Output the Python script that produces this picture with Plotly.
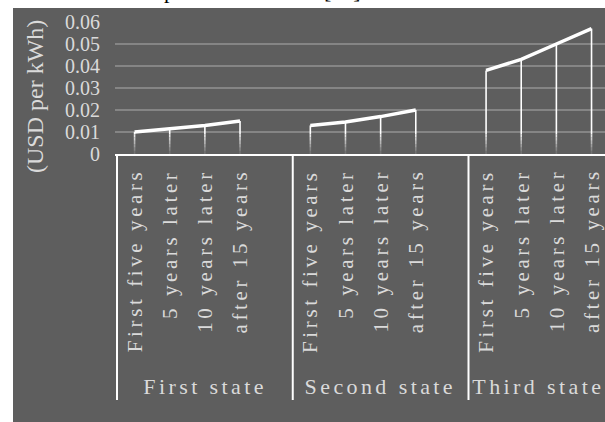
import plotly.graph_objects as go

# ---------------- data ----------------
groups = ["First state", "Second state", "Third state"]
periods = ["First five years", "5 years later", "10 years later", "after 15 years"]
first_state = [0.010, 0.0115, 0.013, 0.015]
second_state = [0.013, 0.0145, 0.017, 0.020]
third_state = [0.038, 0.043, 0.050, 0.057]
y_tick_values = [0, 0.01, 0.02, 0.03, 0.04, 0.05, 0.06]
y_tick_labels = ["0", "0.01", "0.02", "0.03", "0.04", "0.05", "0.06"]
y_title = "(USD per kWh)"
chart_title = "The electric price of the states [24]"

series = [first_state, second_state, third_state]

# ---------------- layout geometry ----------------
W, H = 605, 422
L, R, T, B = 115, 0, 22, 268
PW = W - L - R
PH = H - T - B
SLOTS = len(periods) + 1          # one empty slot between states
SLOT_PX = 35.15
x0 = -0.5 - (117 - L) / SLOT_PX
x1 = x0 + PW / SLOT_PX

def px_x(p):
    return (p - L) / PW

def px_y(p):
    return (H - B - p) / PH

BG = "#5e5e5e"
GRID = "#858585"
TXT = "#dadada"
SERIF = "Liberation Serif"

fig = go.Figure()

# drop lines with a fade toward the axis
band_edges = [0, 0.0015, 0.003, 0.0045, 0.006, 0.0075, 0.009, 1.0]
band_alpha = [0.12, 0.25, 0.4, 0.55, 0.7, 0.85, 1.0]
for k in range(len(band_edges) - 1):
    lo, hi = band_edges[k], band_edges[k + 1]
    xs, ys = [], []
    for g, vals in enumerate(series):
        for i, v in enumerate(vals):
            if v > lo:
                xs += [g * SLOTS + i, g * SLOTS + i, None]
                ys += [lo, min(v, hi), None]
    fig.add_trace(go.Scatter(x=xs, y=ys, mode="lines",
                             line=dict(color="white", width=1.6),
                             opacity=band_alpha[k], hoverinfo="skip",
                             showlegend=False))

# main lines
for g, vals in enumerate(series):
    fig.add_trace(go.Scatter(x=[g * SLOTS + i for i in range(len(vals))], y=vals,
                             mode="lines", line=dict(color="white", width=3.5),
                             name=groups[g], showlegend=False))

shapes = [dict(type="rect", xref="paper", yref="paper",
               x0=px_x(13), x1=px_x(W) + 0.02, y0=px_y(H) - 0.05, y1=px_y(8),
               fillcolor=BG, line=dict(width=0), layer="below")]
# group spans: last group has no trailing empty slot
spans = []
for g in range(len(groups)):
    start = g * SLOTS - 0.5
    end = start + (SLOTS if g < len(groups) - 1 else len(periods))
    spans.append((start, end))
bounds = sorted(set([s for s, e in spans] + [e for s, e in spans]))
for b in bounds:
    shapes.append(dict(type="line", xref="x", yref="paper",
                       x0=b, x1=b, y0=0, y1=px_y(400),
                       line=dict(color="white", width=2)))

annotations = []
# category labels (rotated)
for g in range(len(groups)):
    for i, p in enumerate(periods):
        annotations.append(dict(x=g * SLOTS + i, xref="x", y=px_y(168), yref="paper",
                                text=p, textangle=-90, showarrow=False,
                                xanchor="center", yanchor="top", align="right",
                                borderpad=0,
                                font=dict(family=SERIF, size=21, color=TXT)))
# group labels
for g, name in enumerate(groups):
    s, e = spans[g]
    annotations.append(dict(x=(s + e) / 2, xref="x", y=px_y(386), yref="paper",
                            text=name, showarrow=False, xanchor="center", yanchor="middle",
                            align="center", borderpad=0,
                            font=dict(family=SERIF, size=22, color=TXT)))
# y axis title
annotations.append(dict(x=px_x(35), xref="paper", y=px_y(97), yref="paper",
                        text=y_title, textangle=-90, showarrow=False,
                        xanchor="center", yanchor="middle",
                        font=dict(family=SERIF, size=24, color=TXT)))
# chart title (mostly cut off at the top)
annotations.append(dict(x=px_x(52), xref="paper", y=px_y(5), yref="paper",
                        text=chart_title, showarrow=False,
                        xanchor="left", yanchor="bottom",
                        font=dict(family=SERIF, size=22, color="black")))

fig.update_layout(
    width=W, height=H,
    margin=dict(l=L, r=R, t=T, b=B, pad=0),
    paper_bgcolor="white", plot_bgcolor="rgba(0,0,0,0)",
    font=dict(family=SERIF),
    shapes=shapes, annotations=annotations,
    xaxis=dict(range=[x0, x1], showgrid=False, zeroline=False, showticklabels=False,
               showline=True, linecolor="white", linewidth=2, ticks=""),
    yaxis=dict(range=[0, 0.06], tickvals=y_tick_values, ticktext=y_tick_labels,
               showgrid=True, gridcolor=GRID, gridwidth=1.5, zeroline=False,
               showline=False, ticks="", ticklabelstandoff=14,
               tickfont=dict(family=SERIF, size=20, color=TXT)),
    showlegend=False,
)

n_spaced = len(groups) * len(periods) + len(groups)
n_cat = len(groups) * len(periods)
post = """
document.body.style.margin='0';
var gd=document.getElementById('{plot_id}');
gd.querySelectorAll('g.annotation').forEach(function(a){
  var i=+a.getAttribute('data-index');
  if(i<%d){var t=a.querySelector('text.annotation-text');
    if(t){t.style.letterSpacing=(i<%d?'3.6px':'3.4px');}}
});
""" % (n_spaced, n_cat)

fig.write_html("out.html", config={"displayModeBar": False}, post_script=post)
